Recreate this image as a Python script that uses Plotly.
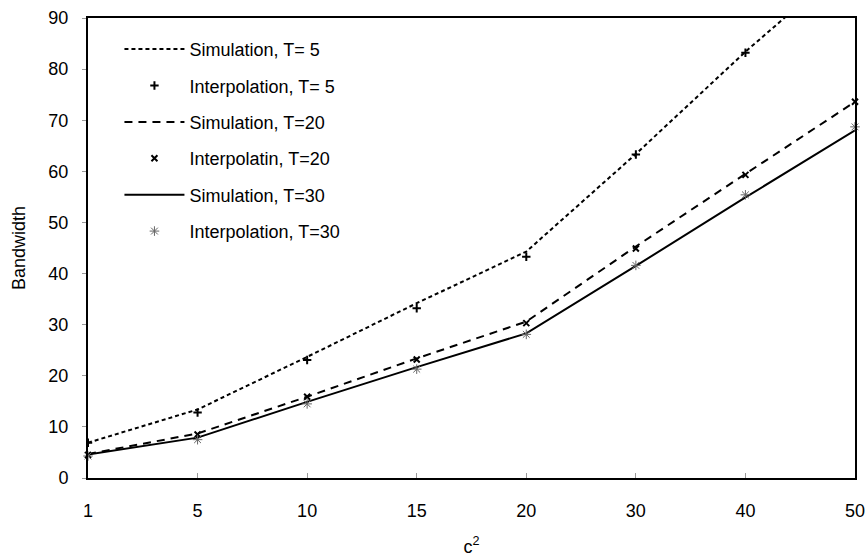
import plotly.graph_objects as go

categories = ["1", "5", "10", "15", "20", "30", "40", "50"]
sim_t5 = [6.9, 13.4, 23.7, 34.2, 44.3, 63.4, 83.4, 102.0]
int_t5 = [6.9, 12.8, 23.1, 33.2, 43.3, 63.3, 83.2, 101.5]
sim_t20 = [4.7, 8.7, 15.9, 23.4, 30.6, 45.3, 59.5, 73.6]
int_t20 = [4.5, 8.5, 15.9, 23.2, 30.3, 44.9, 59.3, 73.6]
sim_t30 = [4.6, 7.9, 14.9, 21.7, 28.3, 41.5, 54.9, 68.0]
int_t30 = [4.3, 7.5, 14.5, 21.3, 28.1, 41.6, 55.4, 68.7]

FONT = "Liberation Sans, Arial, sans-serif"
FS = 18

fig = go.Figure()
fig.add_trace(go.Scatter(x=categories, y=sim_t5, mode="lines", name="Simulation, T= 5",
                         line=dict(color="black", width=2, dash="4px,3px"), legendgroup="a"))
fig.add_trace(go.Scatter(x=categories, y=int_t5, mode="markers", name="Interpolation, T= 5",
                         marker=dict(symbol="cross-thin", size=6, line=dict(color="black", width=2)),
                         legendgroup="b"))
fig.add_trace(go.Scatter(x=categories, y=sim_t20, mode="lines", name="Simulation, T=20",
                         line=dict(color="black", width=2, dash="8px,6px"), legendgroup="c"))
fig.add_trace(go.Scatter(x=categories, y=int_t20, mode="markers", name="Interpolatin, T=20",
                         marker=dict(symbol="x-thin", size=6, line=dict(color="black", width=2)),
                         cliponaxis=False, legendgroup="d"))
fig.add_trace(go.Scatter(x=categories, y=sim_t30, mode="lines", name="Simulation, T=30",
                         line=dict(color="black", width=2), legendgroup="e"))
fig.add_trace(go.Scatter(x=categories, y=int_t30, mode="markers", name="Interpolation, T=30",
                         marker=dict(symbol="asterisk", size=8, line=dict(color="#666666", width=1)),
                         cliponaxis=False, legendgroup="f"))

fig.update_layout(
    width=867, height=557,
    margin=dict(l=88, r=12, t=18, b=79, autoexpand=False),
    paper_bgcolor="white", plot_bgcolor="white",
    font=dict(family=FONT, size=FS, color="black"),
    showlegend=True,
    legend=dict(x=0.041, y=0.972, xanchor="left", yanchor="top",
                bgcolor="rgba(0,0,0,0)", font=dict(size=FS),
                tracegroupgap=10, itemwidth=60),
    xaxis=dict(type="category", range=[0, 7], showgrid=False, automargin=False,
               showline=True, linecolor="black", linewidth=2, mirror=True,
               ticks="inside", ticklen=5, tickcolor="#999999",
               ticklabelstandoff=15, tickfont=dict(size=FS),
               title=dict(text="c<sup>2</sup>", font=dict(size=FS), standoff=22)),
    yaxis=dict(range=[0, 90], dtick=10, showgrid=False, zeroline=False, automargin=False,
               showline=True, linecolor="black", linewidth=2, mirror=True,
               ticks="outside", ticklen=4, tickcolor="#999999",
               ticklabelstandoff=10, tickfont=dict(size=FS),
               title=dict(text="Bandwidth", font=dict(size=FS), standoff=18)),
)

fig.write_html("out.html", config={"displayModeBar": False},
               post_script="document.body.style.margin='0';document.body.style.overflow='hidden';")
